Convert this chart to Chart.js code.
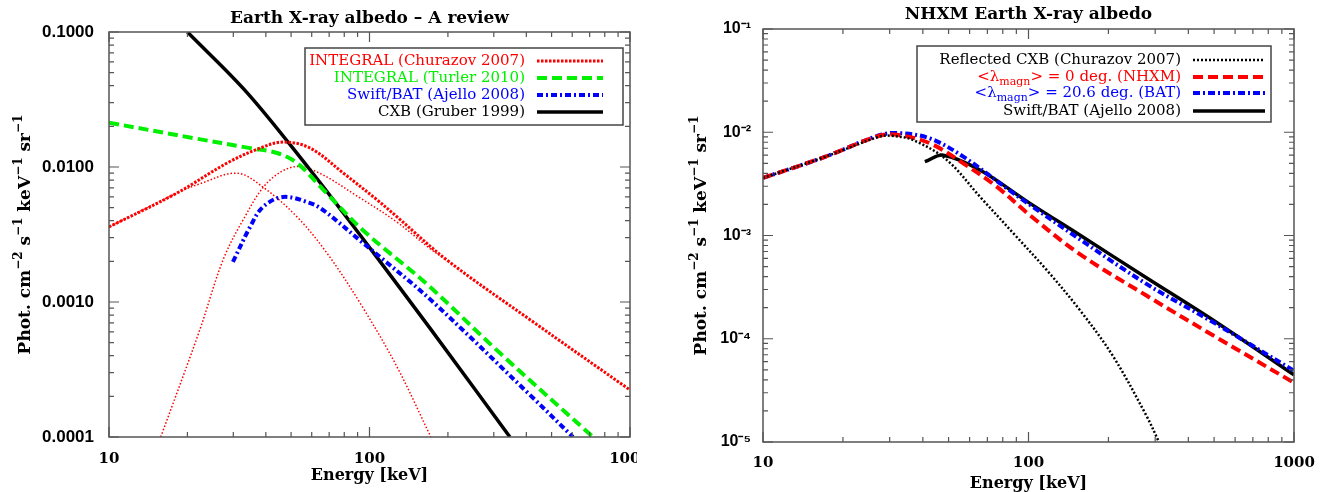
<!DOCTYPE html>
<html lang="en">
<head>
<meta charset="UTF-8">
<title>Earth X-ray albedo</title>
<script src="https://cdn.jsdelivr.net/npm/chart.js"></script>
<style>
  body { margin: 0; background: #fff; width: 1330px; height: 492px; overflow: hidden; position: relative; }
  .panel { position: absolute; top: 0; height: 492px; }
  #left { left: 0; width: 637px; }
  #right { left: 650px; width: 680px; }
</style>
</head>
<body>
<div class="panel" id="left"><canvas id="reviewChart"></canvas></div>
<div class="panel" id="right"><canvas id="nhxmChart"></canvas></div>
<script>
// ---- left panel: Earth X-ray albedo - A review ----
const churazovE = [10, 18.2, 28.4, 38, 46.6, 59.2, 80, 107, 127.6, 198, 413, 1000];
const churazovFlux = [0.0036, 0.0064, 0.0107, 0.0138, 0.0153, 0.0138, 0.0089, 0.0057, 0.00427, 0.00205, 0.00074, 0.000223];
// thin dotted components of the Churazov model
const reflLowE = [10, 18.2, 22.3, 31, 39, 52.7, 68.7, 93, 127.6, 172];
const reflLowFlux = [0.0036, 0.0064, 0.0075, 0.009, 0.0071, 0.00427, 0.0023, 0.00095, 0.00033, 0.0001];
const reflHighE = [15.8, 22.3, 27.4, 32.7, 40.4, 50.8, 62.8, 92, 127.6, 170, 198];
const reflHighFlux = [0.0001, 0.00062, 0.00205, 0.00405, 0.0076, 0.01, 0.0092, 0.0059, 0.0039, 0.0025, 0.00203];
const turlerE = [10, 21, 34.8, 44.2, 52.7, 66.4, 94.4, 168, 308, 721];
const turlerFlux = [0.0213, 0.0164, 0.0138, 0.0127, 0.0107, 0.0068, 0.0034, 0.00133, 0.00044, 0.0001];
const ajelloE = [29.9, 34.8, 39, 46.6, 59.2, 66.4, 94.4, 110, 170.6, 413, 604];
const ajelloFlux = [0.00198, 0.0036, 0.00506, 0.006, 0.0054, 0.0048, 0.00274, 0.00215, 0.00105, 0.000205, 0.0001];
const gruberE = [20, 34, 59.2, 79.1, 107, 170.6, 346];
const gruberFlux = [0.1, 0.0353, 0.0095, 0.0046, 0.00213, 0.00064, 0.0001];

const reviewXTicks = [10, 100, 1000];
const reviewXLabels = ['10', '100', '1000'];
const reviewYTicks = [0.0001, 0.001, 0.01, 0.1];
const reviewYLabels = ['0.0001', '0.0010', '0.0100', '0.1000'];

// ---- right panel: NHXM Earth X-ray albedo ----
const reflectedE = [10, 17.1, 27.6, 31, 36.8, 49.2, 65.6, 87.7, 117, 156, 208, 278, 310];
const reflectedFlux = [0.00361, 0.00577, 0.0091, 0.0092, 0.0084, 0.0054, 0.00238, 0.00105, 0.000464, 0.00019, 6.8e-5, 1.8e-5, 1e-5];
const nhxmE = [10, 17.1, 27.6, 32.5, 42.6, 56.8, 75.9, 101, 156, 278, 495, 1000];
const nhxmFlux = [0.00361, 0.00577, 0.0093, 0.0094, 0.0078, 0.005, 0.00297, 0.00158, 0.00066, 0.000262, 0.000108, 3.75e-5];
const batE = [10, 17.1, 27.6, 32.8, 42.6, 56.8, 87.7, 156, 278, 495, 1000];
const batFlux = [0.00361, 0.00577, 0.0094, 0.0098, 0.0087, 0.0058, 0.00257, 0.00092, 0.00034, 0.000145, 4.9e-5];
const swiftE = [40.7, 47.8, 65.6, 101, 156, 278, 495, 1000];
const swiftFlux = [0.00519, 0.006, 0.00431, 0.00206, 0.00101, 0.00039, 0.000152, 4.47e-5];

const nhxmXTicks = [10, 100, 1000];
const nhxmXLabels = ['10', '100', '1000'];
const nhxmYTicks = [1e-5, 1e-4, 1e-3, 1e-2, 1e-1];
const nhxmYLabels = ['10⁻⁵', '10⁻⁴', '10⁻³', '10⁻²', '10⁻¹'];

const yTitle = 'Phot. cm^{−2} s^{−1} keV^{−1} sr^{−1}';
const serif = 'DejaVu Serif';
const sans = 'Liberation Sans';

const pts = (xs, ys) => xs.map((x, i) => ({ x, y: ys[i] }));

function pickLabel(value, ticks, labels) {
    const i = ticks.findIndex(t => Math.abs(Math.log10(t) - Math.log10(value)) < 1e-6);
    return i < 0 ? '' : labels[i];
}

function logSteps(scale) {
    const out = [];
    const e0 = Math.floor(Math.log10(scale.min) + 1e-9);
    const e1 = Math.ceil(Math.log10(scale.max) - 1e-9);
    for (let e = e0; e <= e1; e++) {
        for (let m = 1; m < 10; m++) {
            const v = m * Math.pow(10, e);
            if (v >= scale.min * 0.999 && v <= scale.max * 1.001) out.push([v, m === 1]);
        }
    }
    return out;
}

// text with _{sub} and ^{sup} parts
function drawRich(ctx, text, x, y, color, size, weight, align) {
    const bits = text.split(/([_^])\{([^}]*)\}/);
    const segs = [];
    for (let i = 0; i < bits.length; i += 3) {
        if (bits[i]) segs.push({ t: bits[i], k: '' });
        if (i + 2 < bits.length) segs.push({ t: bits[i + 2], k: bits[i + 1] });
    }
    const fontFor = k => weight + ' ' + (k ? Math.round(size * 0.72) : size) + 'px "' + serif + '"';
    let total = 0;
    segs.forEach(s => { ctx.font = fontFor(s.k); s.w = ctx.measureText(s.t).width; total += s.w; });
    let cx = align === 'right' ? x - total : align === 'center' ? x - total / 2 : x;
    ctx.fillStyle = color;
    ctx.textAlign = 'left';
    ctx.textBaseline = 'middle';
    segs.forEach(s => {
        ctx.font = fontFor(s.k);
        const dy = s.k === '_' ? size * 0.35 : s.k === '^' ? -size * 0.42 : 0;
        ctx.fillText(s.t, cx, y + dy);
        cx += s.w;
    });
}

// IDL-style frame with inward ticks on all four sides, plus rotated y title
const frameTicks = {
    id: 'frameTicks',
    afterDatasetsDraw(chart, args, opts) {
        const { ctx, chartArea: a, scales } = chart;
        ctx.save();
        ctx.strokeStyle = '#555';
        ctx.lineWidth = 1.5;
        ctx.setLineDash([]);
        ctx.strokeRect(a.left, a.top, a.right - a.left, a.bottom - a.top);
        ctx.lineWidth = 1.2;
        ctx.beginPath();
        logSteps(scales.x).forEach(([v, major]) => {
            const px = scales.x.getPixelForValue(v);
            const len = major ? 10 : 5;
            ctx.moveTo(px, a.bottom); ctx.lineTo(px, a.bottom - len);
            ctx.moveTo(px, a.top); ctx.lineTo(px, a.top + len);
        });
        logSteps(scales.y).forEach(([v, major]) => {
            const py = scales.y.getPixelForValue(v);
            const len = major ? 10 : 5;
            ctx.moveTo(a.left, py); ctx.lineTo(a.left + len, py);
            ctx.moveTo(a.right, py); ctx.lineTo(a.right - len, py);
        });
        ctx.stroke();
        ctx.translate(opts.titleX, (a.top + a.bottom) / 2);
        ctx.rotate(-Math.PI / 2);
        drawRich(ctx, yTitle, 0, 0, '#000', 17, 'bold', 'center');
        ctx.restore();
    }
};

// boxed legend: text right aligned, line sample to the right
const boxLegend = {
    id: 'boxLegend',
    afterDatasetsDraw(chart, args, opts) {
        const { ctx } = chart;
        const b = opts.box;
        ctx.save();
        ctx.fillStyle = '#fff';
        ctx.fillRect(b[0], b[1], b[2] - b[0], b[3] - b[1]);
        ctx.strokeStyle = '#444';
        ctx.lineWidth = 1.5;
        ctx.strokeRect(b[0], b[1], b[2] - b[0], b[3] - b[1]);
        opts.rows.forEach((y, i) => {
            const ds = chart.data.datasets[i];
            drawRich(ctx, ds.label, opts.textRight, y, ds.borderColor, opts.fontSize, 'normal', 'right');
            ctx.strokeStyle = ds.borderColor;
            ctx.lineWidth = ds.borderWidth;
            ctx.setLineDash(ds.borderDash || []);
            ctx.beginPath();
            ctx.moveTo(opts.line[0], y);
            ctx.lineTo(opts.line[1], y);
            ctx.stroke();
        });
        ctx.restore();
    }
};

function series(label, xs, ys, color, width, dash) {
    return {
        label, data: pts(xs, ys), borderColor: color, borderWidth: width, borderDash: dash,
        pointRadius: 0, fill: false, tension: 0.35, clip: 0
    };
}

function makeOptions(cfg) {
    return {
        responsive: true,
        maintainAspectRatio: false,
        animation: false,
        layout: { padding: { right: cfg.padRight } },
        plugins: {
            legend: { display: false },
            tooltip: { enabled: false },
            title: {
                display: true, text: cfg.title, fullSize: false, color: '#000',
                font: { family: serif, size: 17, weight: 'bold', lineHeight: 1 },
                padding: cfg.titlePad
            },
            boxLegend: cfg.legend,
            frameTicks: { titleX: cfg.yTitleX }
        },
        scales: {
            x: {
                type: 'logarithmic', min: cfg.xRange[0], max: cfg.xRange[1],
                grid: { display: false }, border: { display: false },
                ticks: {
                    autoSkip: false, maxRotation: 0, minRotation: 0, padding: cfg.xTickPad, color: '#000',
                    font: { family: serif, size: 15, weight: 'bold' },
                    callback: v => pickLabel(v, cfg.xTicks, cfg.xLabels)
                },
                title: {
                    display: true, text: 'Energy [keV]', color: '#000',
                    font: { family: serif, size: 16, weight: 'bold', lineHeight: 1 },
                    padding: { top: 0, bottom: cfg.xTitlePad }
                },
                afterFit: s => { s.height = cfg.xHeight; s.paddingLeft = 0; s.paddingRight = 0; }
            },
            y: {
                type: 'logarithmic', min: cfg.yRange[0], max: cfg.yRange[1],
                grid: { display: false }, border: { display: false },
                ticks: {
                    autoSkip: false, padding: cfg.yTickPad, color: '#000',
                    font: { family: sans, size: cfg.yTickSize, weight: 'bold' },
                    callback: v => pickLabel(v, cfg.yTicks, cfg.yLabels)
                },
                afterFit: s => { s.width = cfg.yWidth; s.paddingTop = 0; s.paddingBottom = 0; }
            }
        }
    };
}

const createReviewChart = () => {
    new Chart(document.getElementById('reviewChart'), {
        type: 'line',
        data: {
            datasets: [
                series('INTEGRAL (Churazov 2007)', churazovE, churazovFlux, '#ff0000', 3, [2.5, 1.5]),
                series('INTEGRAL (Turler 2010)', turlerE, turlerFlux, '#00f000', 4, [10, 5]),
                series('Swift/BAT (Ajello 2008)', ajelloE, ajelloFlux, '#0000ff', 4, [6, 3, 2, 3]),
                series('CXB (Gruber 1999)', gruberE, gruberFlux, '#000000', 3.5, []),
                series('', reflLowE, reflLowFlux, '#ff0000', 1.5, [1.5, 2]),
                series('', reflHighE, reflHighFlux, '#ff0000', 1.5, [1.5, 2])
            ]
        },
        options: makeOptions({
            title: 'Earth X-ray albedo – A review',
            titlePad: { top: 10.5, bottom: 4.5 },
            padRight: 7,
            xRange: [10, 1000], yRange: [0.0001, 0.1],
            xTicks: reviewXTicks, xLabels: reviewXLabels,
            yTicks: reviewYTicks, yLabels: reviewYLabels,
            xTickPad: 5, xTitlePad: 8, xHeight: 55,
            yTickPad: 7, yTickSize: 17, yTitleX: 26, yWidth: 109,
            legend: { box: [305, 48, 623, 125], rows: [61, 78, 95, 112], textRight: 525, line: [537, 603], fontSize: 15 }
        }),
        plugins: [frameTicks, boxLegend]
    });
};

const createNhxmChart = () => {
    new Chart(document.getElementById('nhxmChart'), {
        type: 'line',
        data: {
            datasets: [
                series('Reflected CXB (Churazov 2007)', reflectedE, reflectedFlux, '#000000', 2.5, [2, 2]),
                series('<λ_{magn}> = 0 deg. (NHXM)', nhxmE, nhxmFlux, '#ff0000', 4, [10, 5]),
                series('<λ_{magn}> = 20.6 deg. (BAT)', batE, batFlux, '#0000ff', 4, [7, 3, 2, 3]),
                series('Swift/BAT (Ajello 2008)', swiftE, swiftFlux, '#000000', 3.5, [])
            ]
        },
        options: makeOptions({
            title: 'NHXM Earth X-ray albedo',
            titlePad: { top: 6.5, bottom: 5.5 },
            padRight: 36,
            xRange: [10, 1000], yRange: [1e-5, 1e-1],
            xTicks: nhxmXTicks, xLabels: nhxmXLabels,
            yTicks: nhxmYTicks, yLabels: nhxmYLabels,
            xTickPad: 4, xTitlePad: 0, xHeight: 50,
            yTickPad: 4, yTickSize: 16, yTitleX: 52, yWidth: 113,
            legend: { box: [267, 46, 621, 122], rows: [60, 77, 93, 111], textRight: 531, line: [543, 615], fontSize: 15 }
        }),
        plugins: [frameTicks, boxLegend]
    });
};

window.onload = () => {
    createReviewChart();
    createNhxmChart();
};
</script>
</body>
</html>
